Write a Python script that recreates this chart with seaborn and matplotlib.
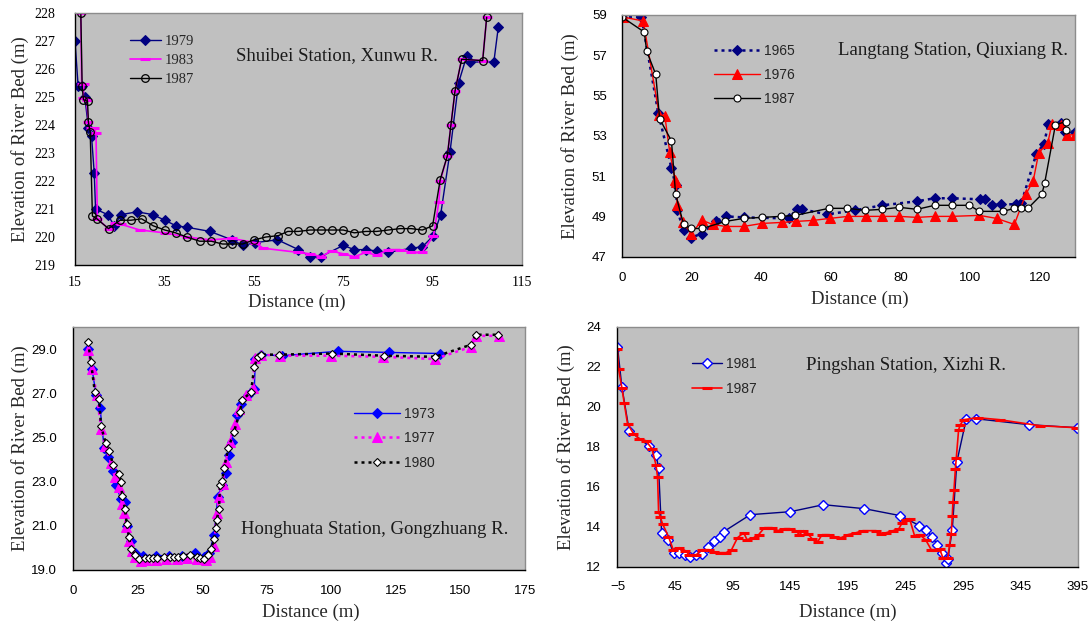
import numpy as np
import pandas as pd
import matplotlib
matplotlib.use("Agg")
import matplotlib.pyplot as plt
import seaborn as sns

# ---------------- data ----------------
# Panel 1: Shuibei Station, Xunwu R.
d1979 = [15.0, 15.7, 16.5, 17.2, 18.0, 18.7, 19.3, 19.6, 22.3, 23.8, 25.3, 28.9, 32.4, 35.1, 37.6, 40.0, 45.2, 50.1, 52.6, 55.3,
         60.3, 65.0, 67.6, 70.0, 75.0, 77.5, 80.1, 82.5, 85.1, 90.2, 92.7, 95.2, 96.8, 98.9, 100.8, 102.6, 103.4, 108.7, 109.7]
e1979 = [227.0, 225.4, 225.4, 225.0, 223.9, 223.6, 222.3, 221.0, 220.8, 220.4, 220.8, 220.9, 220.8, 220.6, 220.4, 220.35, 220.2, 219.9, 219.7, 219.8,
         219.9, 219.55, 219.3, 219.3, 219.7, 219.55, 219.55, 219.5, 219.45, 219.6, 219.65, 220.05, 220.8, 223.05, 225.5, 226.45, 226.25, 226.25, 227.5]
d1983 = [16.3, 16.5, 17.0, 16.8, 17.6, 18.0, 18.5, 19.3, 19.7, 20.0, 22.5, 24.0, 25.4, 29.5, 35.1, 40.0, 45.2, 50.1, 55.3, 57.1, 65.0,
         67.6, 70.0, 72.4, 75.0, 77.5, 80.1, 82.5, 85.1, 87.7, 90.2, 92.7, 95.2, 96.4, 96.7, 98.3, 99.1, 100.0, 101.5, 106.2, 107.1]
e1983 = [228.0, 225.45, 225.45, 224.95, 224.9, 224.1, 223.9, 223.9, 223.7, 220.65, 220.3, 220.5, 220.45, 220.25, 220.15, 220.0, 219.9, 219.95, 219.8, 219.6, 219.45,
         219.4, 219.3, 219.5, 219.4, 219.3, 219.45, 219.35, 219.55, 219.55, 219.45, 219.45, 220.05, 221.25, 222.0, 222.9, 224.0, 225.2, 226.35, 226.3, 227.85]
d1987a = [16.3, 16.6, 16.9, 17.8, 18.0, 18.4, 18.9, 19.9, 22.5, 25.1, 27.5, 29.9, 32.5, 35.1, 37.5, 40.0, 42.9, 45.5, 48.0, 50.1, 52.5, 55.1, 57.7,
          60.5, 62.6, 65.0, 67.6, 70.0, 72.4, 75.0, 77.5, 80.1, 82.5, 85.1, 87.7, 90.2, 92.7, 95.0, 96.7, 98.3, 99.1, 100.0, 101.5, 106.2, 107.1]
e1987a = [228.0, 225.4, 224.9, 224.85, 224.1, 223.75, 220.75, 220.65, 220.3, 220.6, 220.6, 220.65, 220.4, 220.25, 220.15, 220.0, 219.85, 219.85, 219.75, 219.75, 219.75, 219.9, 220.0,
          220.05, 220.2, 220.2, 220.25, 220.25, 220.25, 220.25, 220.15, 220.2, 220.2, 220.25, 220.3, 220.3, 220.25, 220.4, 222.05, 222.9, 224.0, 225.2, 226.35, 226.3, 227.85]

# Panel 2: Langtang Station, Qiuxiang R.
d1965 = [0, 5.6, 10.4, 14.2, 15.4, 15.9, 17.7, 19.8, 23.1, 27.0, 29.8, 34.9, 47.9, 50.1, 51.7, 58.9, 66.8, 74.7, 84.7, 89.7, 94.6,
         102.7, 104.3, 106.1, 108.7, 113.2, 114.6, 118.9, 121.1, 122.4, 126.0, 127.0, 130.0]
e1965 = [58.9, 58.9, 54.15, 51.4, 50.55, 49.3, 48.3, 47.95, 48.15, 48.75, 49.0, 48.95, 48.9, 49.35, 49.35, 49.1, 49.3, 49.55, 49.75, 49.9, 49.9,
         49.85, 49.85, 49.55, 49.6, 49.6, 49.65, 52.1, 52.6, 53.6, 53.65, 53.2, 53.2]
d1976 = [0.2, 6.1, 10.7, 12.3, 13.7, 15.3, 15.6, 15.9, 17.5, 19.8, 23.1, 26.0, 29.8, 34.9, 40.1, 45.9, 49.9, 54.8, 59.6, 64.9, 69.9,
         74.7, 79.6, 84.7, 89.7, 94.6, 102.6, 107.5, 112.6, 115.9, 118.0, 119.6, 122.2, 123.4, 126.0, 127.8, 130.0]
e1976 = [58.9, 58.7, 54.05, 54.0, 52.2, 50.8, 50.7, 49.55, 48.7, 48.15, 48.8, 48.6, 48.5, 48.5, 48.65, 48.7, 48.75, 48.8, 48.9, 49.0, 49.0,
         49.0, 49.0, 48.95, 49.0, 49.0, 49.05, 48.9, 48.6, 50.1, 50.75, 52.15, 52.65, 53.6, 53.55, 53.05, 53.05]
d1987b = [0, 6.4, 7.1, 9.7, 10.8, 14.2, 15.4, 17.7, 19.8, 23.0, 29.7, 34.9, 40.1, 45.6, 49.7, 59.4, 64.7, 69.7, 74.7, 79.6, 84.7,
          89.7, 94.6, 99.7, 102.6, 109.4, 112.6, 114.5, 116.5, 120.5, 121.3, 124.4, 127.3, 127.5]
e1987b = [58.9, 58.15, 57.2, 56.05, 53.85, 52.75, 50.1, 48.6, 48.4, 48.4, 48.75, 48.9, 48.95, 49.0, 49.05, 49.4, 49.4, 49.3, 49.35, 49.45, 49.35,
          49.55, 49.55, 49.55, 49.25, 49.25, 49.4, 49.4, 49.4, 50.1, 50.65, 53.55, 53.7, 53.3]

# Panel 3: Honghuata Station, Gongzhuang R.
d1973 = [5.6, 7.2, 8.8, 10.3, 11.9, 13.2, 15.4, 16.5, 18.4, 20.0, 20.8, 22.3, 24.0, 27.0, 32.0, 37.0, 42.0, 47.0, 50.5, 52.5, 54.6, 55.9,
         57.5, 59.0, 60.3, 61.3, 63.3, 65.0, 67.5, 70.1, 70.5, 72.8, 80.7, 102.4, 122.3, 142.1]
e1973 = [29.0, 28.1, 26.9, 26.35, 24.5, 24.1, 23.5, 22.85, 22.2, 22.1, 21.0, 20.3, 19.75, 19.65, 19.65, 19.65, 19.65, 19.75, 19.6, 19.75, 20.6, 22.3,
         22.85, 23.4, 24.2, 24.8, 26.0, 26.5, 26.9, 27.2, 28.55, 28.75, 28.7, 28.9, 28.85, 28.8]
d1977 = [5.5, 7.3, 9.0, 10.8, 12.3, 14.6, 16.0, 17.8, 18.8, 19.5, 20.5, 21.6, 22.5, 24.0, 26.0, 28.0, 32.0, 36.0, 40.0, 44.0, 48.0,
         51.5, 53.0, 54.5, 55.6, 56.5, 57.8, 59.0, 60.5, 62.5, 64.3, 66.8, 69.5, 70.3, 72.5, 80.0, 100.0, 120.0, 140.0, 154.0, 156.0, 165.0]
e1977 = [28.95, 28.1, 26.9, 25.4, 24.6, 23.85, 23.2, 22.75, 22.0, 21.6, 20.95, 20.3, 19.85, 19.6, 19.4, 19.45, 19.45, 19.5, 19.5, 19.55, 19.5,
         19.45, 19.6, 20.1, 21.6, 22.3, 22.9, 23.9, 24.8, 25.6, 26.3, 26.9, 27.25, 28.6, 28.75, 28.7, 28.7, 28.65, 28.55, 29.1, 29.6, 29.6]
d1980 = [5.7, 6.8, 8.3, 9.9, 10.7, 12.5, 13.8, 15.4, 17.6, 18.4, 18.9, 20.0, 20.6, 21.5, 22.3, 23.8, 25.5, 27.7, 29.4, 30.9, 32.5,
         35.2, 37.4, 39.1, 40.6, 42.6, 45.2, 47.7, 49.0, 50.7, 52.0, 53.3, 54.6, 55.1, 55.5, 56.4, 56.8, 57.7, 58.3, 60.0, 62.2,
         64.5, 65.4, 68.8, 70.1, 71.4, 72.7, 79.8, 100.3, 120.3, 140.1, 154.1, 155.9, 164.7]
e1980 = [29.3, 28.4, 27.05, 26.75, 25.5, 24.75, 24.4, 23.75, 23.35, 23.0, 22.35, 21.75, 21.1, 20.5, 19.95, 19.7, 19.5, 19.55, 19.55, 19.55, 19.55,
         19.6, 19.6, 19.6, 19.6, 19.65, 19.7, 19.6, 19.55, 19.5, 19.7, 19.95, 20.4, 20.9, 21.25, 21.75, 22.85, 23.05, 23.6, 24.5, 25.25,
         26.15, 26.7, 27.05, 28.2, 28.65, 28.75, 28.75, 28.8, 28.7, 28.65, 29.2, 29.65, 29.65]

# Panel 4: Pingshan Station, Xizhi R.
d1981 = [-5, -1.2, 5.2, 22.0, 28.4, 30.7, 33.3, 39.1, 43.7, 48.7, 53.9, 58.2, 63.2, 68.4, 73.3, 79.1, 84.0, 87.2, 110.4, 145.2, 173.9,
         209.5, 240.8, 257.3, 262.6, 268.4, 272.7, 277.1, 280.0, 282.0, 285.8, 289.8, 298.0, 306.1, 352.4, 394.1]
e1981 = [23.0, 21.0, 18.8, 18.05, 17.6, 16.95, 13.7, 13.35, 12.7, 12.7, 12.6, 12.5, 12.6, 12.65, 13.0, 13.3, 13.5, 13.75, 14.6, 14.75, 15.1,
         14.9, 14.55, 14.05, 13.85, 13.5, 13.1, 12.7, 12.2, 12.4, 13.85, 17.25, 19.4, 19.4, 19.1, 18.95]
d1987c = [-5, -4.1, -1.2, 0.8, 3.7, 8.9, 13.9, 19.7, 24.9, 28.4, 29.8, 30.7, 32.1, 34.1, 39.3, 43.4, 48.7, 53.9, 57.3, 63.5, 68.4,
          74.7, 79.1, 84.0, 89.2, 94.1, 99.3, 104.6, 107.5, 113.3, 117.6, 122.6, 129.5, 134.1, 139.9, 144.8, 150.0, 152.9, 156.4,
          160.1, 164.0, 168.9, 172.7, 179.1, 183.4, 189.2, 195.0, 202.3, 208.1, 219.7, 224.0, 228.4, 234.2, 239.4, 242.3, 245.8,
          248.7, 253.0, 257.4, 262.6, 267.5, 271.8, 274.7, 277.6, 282.0, 283.4, 284.9, 285.8, 286.4, 287.3, 288.5, 289.3, 291.3,
          292.8, 295.6, 308.0, 326.9, 361.7, 393.6]
e1987c = [22.9, 21.9, 20.95, 20.2, 19.15, 18.65, 18.4, 18.3, 17.9, 17.1, 16.5, 14.75, 14.5, 14.15, 13.5, 12.85, 12.95, 12.8, 12.6, 12.6, 12.85,
          12.85, 12.75, 12.7, 12.7, 12.85, 13.45, 13.7, 13.35, 13.45, 13.6, 13.95, 13.95, 13.8, 13.9, 13.9, 13.8, 13.6, 13.8,
          13.65, 13.4, 13.25, 13.6, 13.6, 13.5, 13.45, 13.6, 13.7, 13.8, 13.8, 13.65, 13.7, 13.8, 13.9, 14.2, 14.35,
          14.4, 13.55, 13.6, 13.35, 12.85, 12.85, 12.9, 12.45, 12.45, 13.1, 13.65, 14.55, 15.25, 15.85, 16.9, 17.45, 18.85,
          19.1, 19.35, 19.45, 19.35, 19.05, 18.95]

titles = ["Shuibei Station, Xunwu R.", "Langtang Station, Qiuxiang R.",
          "Honghuata Station, Gongzhuang R.", "Pingshan Station, Xizhi R."]
xlabel = "Distance (m)"
ylabel = "Elevation of River Bed (m)"

# ---------------- style ----------------
sns.set_style("white")
plt.rcParams["font.family"] = ["Liberation Serif", "DejaVu Serif"]
SERIF = "Liberation Serif"
SANS = "Liberation Sans"
BG = "#C0C0C0"

fig = plt.figure(figsize=(10.9, 6.23), dpi=100)


def make_ax(rect, xlim, xticks, ylim, yticks, tickfont, xdir="in", ydir="in",
            xpad=8, ypad=10, yfmt=None):
    ax = fig.add_axes(rect)
    ax.set_facecolor(BG)
    ax.set_xlim(*xlim)
    ax.set_ylim(*ylim)
    ax.set_xticks(xticks)
    ax.set_yticks(yticks)
    if yfmt:
        ax.set_yticklabels([yfmt % v for v in yticks])
    for lab in ax.get_xticklabels() + ax.get_yticklabels():
        lab.set_fontfamily(tickfont)
        lab.set_fontsize(10 if tickfont == SERIF else 9.5)
        lab.set_color("black")
    ax.tick_params(axis="x", direction=xdir, length=4, width=0.8, pad=xpad, colors="black")
    ax.tick_params(axis="y", direction=ydir, length=4, width=0.8, pad=ypad, colors="black")
    for s in ["left", "bottom"]:
        ax.spines[s].set_color("black")
        ax.spines[s].set_linewidth(1.0)
    for s in ["top", "right"]:
        ax.spines[s].set_color("#8C8C8C")
        ax.spines[s].set_linewidth(1.0)
        ax.spines[s].set_visible(True)
    return ax


def series(ax, x, y, label, **kw):
    df = pd.DataFrame({"x": x, "y": y})
    sns.lineplot(data=df, x="x", y="y", ax=ax, sort=False, estimator=None,
                 label=label, legend=False, **kw)


def finish(ax, title, tpos, xlpos, ylpos):
    ax.text(tpos[0], tpos[1], title, transform=ax.transAxes, ha="center", va="center",
            fontsize=13.5, fontfamily=SERIF, color="#1a1a1a")
    ax.set_xlabel(xlabel, fontsize=13.5, fontfamily=SERIF)
    ax.set_ylabel(ylabel, fontsize=13.5, fontfamily=SERIF)
    ax.xaxis.set_label_coords(*xlpos)
    ax.xaxis.label.set_va("center")
    ax.yaxis.set_label_coords(*ylpos)
    ax.yaxis.label.set_va("center")


def legend(ax, anchor, font, size, hl, spacing):
    ax.legend(loc="upper left", bbox_to_anchor=anchor, frameon=False, borderpad=0, borderaxespad=0,
              handlelength=hl, handletextpad=0.3, labelspacing=spacing,
              prop={"family": font, "size": size})


# ---- Panel 1 ----
ax1 = make_ax([0.0688, 0.5746, 0.4101, 0.4045], (15, 115), np.arange(15, 116, 20),
              (219, 228), np.arange(219, 229, 1), SERIF, xpad=8, ypad=14)
series(ax1, d1979, e1979, "1979", color="#000080", lw=1.0, marker="D", markersize=5,
       markerfacecolor="#000080", markeredgecolor="#000080")
series(ax1, d1983, e1983, "1983", color="#FF00FF", lw=1.2, marker="_", markersize=7,
       markeredgewidth=2.2, markeredgecolor="#FF00FF")
series(ax1, d1987a, e1987a, "1987", color="black", lw=1.0, marker="o", markersize=5.5,
       markerfacecolor="none", markeredgecolor="black", markeredgewidth=0.9)
legend(ax1, (0.123, 0.912), SERIF, 10.5, 2.1, 0.38)
finish(ax1, titles[0], (0.586, 0.833), (0.497, -0.147), (-0.123, 0.5))

# ---- Panel 2 ----
ax2 = make_ax([0.5706, 0.588, 0.4156, 0.388], (0, 130), np.arange(0, 121, 20),
              (47, 59), np.arange(47, 60, 2), SANS, xdir="out", xpad=7, ypad=11)
series(ax2, d1965, e1965, "1965", color="#000080", lw=1.8, linestyle=(0, (1.2, 1.6)),
       marker="D", markersize=5, markerfacecolor="#000080", markeredgecolor="#000080")
series(ax2, d1976, e1976, "1976", color="#FF0000", lw=1.0, marker="^", markersize=6.5,
       markerfacecolor="#FF0000", markeredgecolor="#FF0000")
series(ax2, d1987b, e1987b, "1987", color="black", lw=1.0, marker="o", markersize=5,
       markerfacecolor="white", markeredgecolor="black", markeredgewidth=0.8)
legend(ax2, (0.203, 0.88), SANS, 10, 3.3, 0.72)
finish(ax2, titles[1], (0.731, 0.855), (0.525, -0.175), (-0.115, 0.5))

# ---- Panel 3 ----
ax3 = make_ax([0.0674, 0.0851, 0.4142, 0.39], (0, 175), np.arange(0, 176, 25),
              (19, 30), np.arange(19, 30, 2), SANS, xdir="in", ydir="out",
              xpad=11, ypad=8, yfmt="%.1f")
series(ax3, d1973, e1973, "1973", color="#0000FF", lw=1.0, marker="D", markersize=5,
       markerfacecolor="#0000FF", markeredgecolor="#0000FF")
series(ax3, d1977, e1977, "1977", color="#FF00FF", lw=1.8, linestyle=(0, (1.2, 1.6)),
       marker="^", markersize=6.5, markerfacecolor="#FF00FF", markeredgecolor="#FF00FF")
series(ax3, d1980, e1980, "1980", color="black", lw=1.8, linestyle=(0, (1.2, 1.6)),
       marker="D", markersize=4.5, markerfacecolor="white", markeredgecolor="black", markeredgewidth=0.8)
legend(ax3, (0.621, 0.672), SANS, 10, 3.3, 0.75)
finish(ax3, titles[2], (0.668, 0.165), (0.526, -0.173), (-0.118, 0.5))

# ---- Panel 4 ----
ax4 = make_ax([0.5665, 0.0904, 0.4225, 0.3852], (-5, 395), np.arange(-5, 396, 50),
              (12, 24), np.arange(12, 25, 2), SANS, xdir="out", ydir="out",
              xpad=6, ypad=8)
series(ax4, d1981, e1981, "1981", color="#000080", lw=1.0, marker="D", markersize=5.5,
       markerfacecolor="white", markeredgecolor="#0000FF", markeredgewidth=1.0)
series(ax4, d1987c, e1987c, "1987", color="#FF0000", lw=1.2, marker="_", markersize=7,
       markeredgewidth=2.2, markeredgecolor="#FF0000")
legend(ax4, (0.161, 0.875), SANS, 10, 2.2, 0.8)
finish(ax4, titles[3], (0.626, 0.84), (0.5, -0.189), (-0.112, 0.5))

fig.savefig("out.png", dpi=100, facecolor="white")
